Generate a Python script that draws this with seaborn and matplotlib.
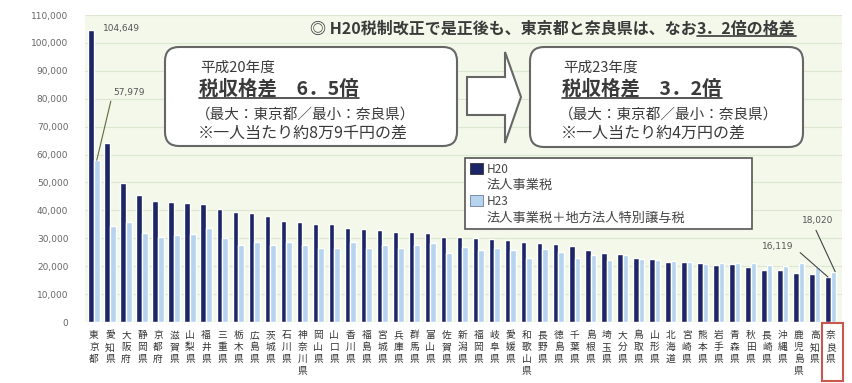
import matplotlib
matplotlib.use("Agg")
import matplotlib.pyplot as plt
import matplotlib.transforms as mtrans
from matplotlib.patches import FancyBboxPatch, Polygon, Rectangle, Patch
from matplotlib.lines import Line2D
import seaborn as sns
import pandas as pd

# ---------------- data ----------------
prefectures = ['東京都', '愛知県', '大阪府', '静岡県', '京都府', '滋賀県', '山梨県', '福井県',
               '三重県', '栃木県', '広島県', '茨城県', '石川県', '神奈川県', '岡山県', '山口県',
               '香川県', '福島県', '宮城県', '兵庫県', '群馬県', '富山県', '佐賀県', '新潟県',
               '福岡県', '岐阜県', '愛媛県', '和歌山県', '長野県', '徳島県', '千葉県', '島根県',
               '埼玉県', '大分県', '鳥取県', '山形県', '北海道', '宮崎県', '熊本県', '岩手県',
               '青森県', '秋田県', '長崎県', '沖縄県', '鹿児島県', '高知県', '奈良県']
h20_values = [104649, 64000, 49700, 45500, 43400, 43000, 42500, 42200, 40400, 39300,
              39200, 38000, 36200, 35900, 35100, 35000, 33600, 33200, 33000, 32400,
              32100, 31800, 30600, 30500, 30200, 29700, 29400, 28800, 28400, 27800,
              27200, 25800, 24800, 24300, 22800, 22400, 21400, 21600, 21000, 20400,
              20700, 19800, 18600, 18600, 17700, 17200, 16119]
h23_values = [57979, 34300, 35900, 31800, 30300, 31200, 31400, 33600, 30000, 27600,
              28800, 27600, 28800, 27600, 26400, 26400, 28800, 26400, 27600, 26400,
              27600, 28200, 24700, 27000, 25900, 26500, 25800, 22800, 26300, 25200,
              22800, 24000, 22200, 24000, 22500, 22200, 22000, 21600, 20800, 21000,
              21000, 21000, 20400, 20100, 21000, 19800, 18020]
series_names = ['H20', 'H23']
series_desc = ['法人事業税', '法人事業税＋地方法人特別譲与税']
y_ticks = list(range(0, 110001, 10000))

DARK = '#1c2566'
LIGHT = '#b6d4ee'
GRID_BG = '#f3f8ea'
TXT = '#3a3a3a'

df = pd.DataFrame({
    'pref': prefectures * 2,
    'year': [series_names[0]] * len(prefectures) + [series_names[1]] * len(prefectures),
    'value': h20_values + h23_values,
})

# ---------------- figure ----------------
sns.set_theme(style='white')
plt.rcParams['font.family'] = ['Noto Sans CJK JP', 'DejaVu Sans']

W, H = 852, 383
fig = plt.figure(figsize=(W / 100, H / 100), dpi=100)
ax = fig.add_axes([85 / W, (H - 322) / H, 757 / W, 307 / H])
ax.set_facecolor(GRID_BG)

BAR_W = 0.7
sns.barplot(data=df, x='pref', y='value', hue='year', order=prefectures,
            hue_order=series_names, palette=[DARK, LIGHT], width=BAR_W,
            saturation=1, legend=False, ax=ax)

ax.set_xlim(-0.56, len(prefectures) - 1 + 0.7)
ax.set_ylim(0, 110000)
ax.set_yticks(y_ticks)
ax.set_yticklabels([f'{v:,}' for v in y_ticks], family='DejaVu Sans')
ax.set_xticks(range(len(prefectures)))
ax.set_xticklabels(['\n'.join(p) for p in prefectures], linespacing=1.25)
ax.tick_params(axis='y', length=0, pad=12, labelsize=6.5, labelcolor='#666666')
ax.tick_params(axis='x', length=0, pad=6, labelsize=7, labelcolor='#333333')
for lab in ax.get_xticklabels():
    lab.set_verticalalignment('top')
ax.set_xlabel('')
ax.set_ylabel('')
for s in ax.spines.values():
    s.set_visible(False)
ax.grid(axis='y', color='#dde7cf', lw=0.8)
ax.grid(axis='x', visible=False)
ax.set_axisbelow(True)

# ---------------- value labels ----------------
off = BAR_W / 4
ax.text(103, H - 28, f'{h20_values[0]:,}', transform=None, fontsize=6.5,
        color='#555555', ha='left', va='center', family='DejaVu Sans')
ax.annotate(f'{h23_values[0]:,}', xy=(0 + off, h23_values[0]), xycoords='data',
            xytext=(113, H - 92), textcoords='figure pixels', fontsize=6.5,
            color='#555555', ha='left', va='center', family='DejaVu Sans',
            arrowprops=dict(arrowstyle='-', color='#5b6b3a', lw=0.8,
                            relpos=(0, 0.5), shrinkA=1, shrinkB=0))
last = len(prefectures) - 1
ax.annotate(f'{h23_values[last]:,}', xy=(last + off + 0.1, h23_values[last]), xycoords='data',
            xytext=(818, H - 220), textcoords='figure pixels', fontsize=6.5,
            color='#555555', ha='center', va='center', family='DejaVu Sans',
            arrowprops=dict(arrowstyle='-', color='#444444', lw=0.8,
                            relpos=(0.35, 0), shrinkA=2, shrinkB=0))
ax.annotate(f'{h20_values[last]:,}', xy=(last - off, h20_values[last]), xycoords='data',
            xytext=(778, H - 247), textcoords='figure pixels', fontsize=6.5,
            color='#555555', ha='center', va='center', family='DejaVu Sans',
            arrowprops=dict(arrowstyle='-', color='#444444', lw=0.8,
                            relpos=(1, 0.5), shrinkA=3, shrinkB=0))

# ---------------- callout boxes ----------------
ident = mtrans.IdentityTransform()


def rbox(x0, y0, x1, y1):
    p = FancyBboxPatch((x0, H - y1), x1 - x0, y1 - y0,
                       boxstyle='round,pad=0,rounding_size=14',
                       transform=ident, facecolor='white', edgecolor='#666666',
                       lw=1.5, zorder=5)
    fig.add_artist(p)


rbox(165, 47, 457, 146)
rbox(530, 47, 803, 147)

arrow_pts = [(467, 77), (505, 77), (505, 52), (521, 97), (505, 143), (505, 115), (467, 115)]
fig.add_artist(Polygon([(x, H - y) for x, y in arrow_pts], closed=True, transform=ident,
                       facecolor='white', edgecolor='#666666', lw=1.5, zorder=5))

texts_to_underline = []


def ftext(x, y, s, size, bold=False, underline=False, color=TXT):
    t = fig.text(x / W, 1 - y / H, s, fontsize=size, color=color, ha='left', va='center',
                 fontweight='bold' if bold else 'normal', zorder=6)
    if underline:
        texts_to_underline.append(t)
    return t


ftext(200, 68, '平成20年度', 10.5)
ftext(199, 89, '税収格差　6．5倍', 14, bold=True, underline=True)
ftext(196, 115, '（最大：東京都／最小：奈良県）', 10.5)
ftext(198, 133, '※一人当たり約8万9千円の差', 11.5)

ftext(563, 68, '平成23年度', 10.5)
ftext(562, 89, '税収格差　3．2倍', 14, bold=True, underline=True)
ftext(559, 115, '（最大：東京都／最小：奈良県）', 10.5)
ftext(561, 133, '※一人当たり約4万円の差', 11.5)

# heading with partial underline
h1 = ftext(310, 29, '◎ H20税制改正で是正後も、東京都と奈良県は、なお', 11.5, bold=True)
fig.canvas.draw()
bb = h1.get_window_extent()
h2 = fig.text(bb.x1 / W, 1 - 29 / H, '3．2倍の格差', fontsize=11.5, color=TXT,
              fontweight='bold', ha='left', va='center', zorder=6)
texts_to_underline.append(h2)

# ---------------- legend ----------------
handles = [Patch(facecolor=DARK, edgecolor='#333333', lw=0.6),
           Patch(facecolor='none', edgecolor='none'),
           Patch(facecolor=LIGHT, edgecolor='#6a7da0', lw=0.6),
           Patch(facecolor='none', edgecolor='none')]
labels = [series_names[0], series_desc[0], series_names[1], series_desc[1]]
leg = ax.legend(handles, labels, loc='upper left',
                bbox_to_anchor=(0.502, 0.293, 0.379, 0.241), mode='expand',
                borderaxespad=0, fontsize=9.5, handlelength=1.0, handleheight=0.9,
                handletextpad=0.3, labelspacing=0.25, borderpad=0.35,
                fancybox=False, framealpha=1, facecolor='white', edgecolor='#555555')
leg.get_frame().set_linewidth(1.2)
for i, t in enumerate(leg.get_texts()):
    t.set_color('#444444')
    if i in (0, 2):
        t.set_fontsize(8.5)
leg.set_zorder(7)

# red highlight around last category label
fig.add_artist(Rectangle((822, H - 381), 21, 58, transform=ident, fill=False,
                         edgecolor='#c8574f', lw=1.5, zorder=8))

# underlines
fig.canvas.draw()
for t in texts_to_underline:
    b = t.get_window_extent()
    fig.add_artist(Line2D([b.x0, b.x1], [b.y0 + 1, b.y0 + 1], transform=ident,
                          color=TXT, lw=1.2, zorder=6))

fig.savefig('out.png', dpi=100)
